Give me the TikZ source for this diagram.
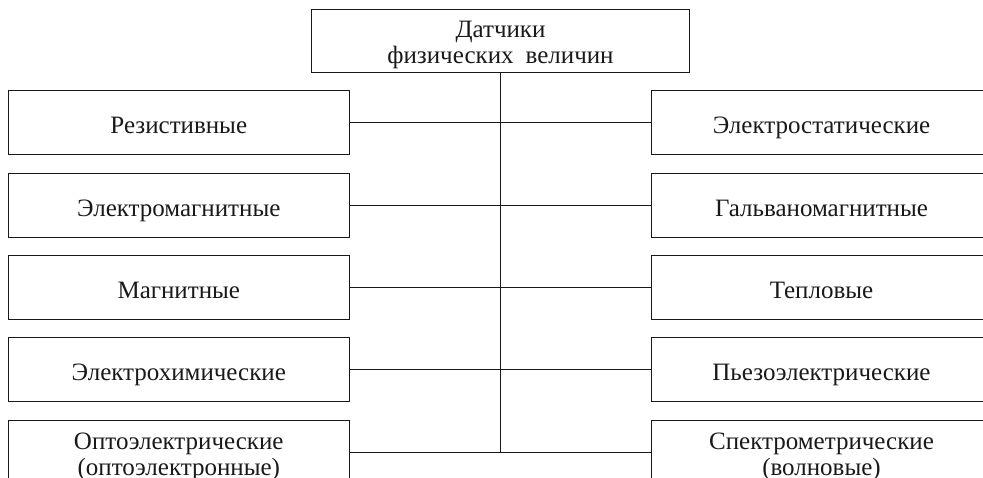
\documentclass[tikz,border=0pt]{standalone}
\usepackage{fontspec}
\setmainfont{Liberation Serif}
\begin{document}
\begin{tikzpicture}[x=1pt,y=-1pt,
  line width=1pt,
  sbox/.style={draw=black!90, text=black!90, minimum width=341pt, minimum height=64pt, inner sep=0pt,
    font=\fontsize{25}{27.5}\selectfont, text height=27pt, text depth=5pt},
  dbox/.style={sbox, text height=29pt, text depth=35pt},
  tbox/.style={sbox, minimum width=377.6pt, minimum height=63.4pt, text height=28.3pt, text depth=35pt},
  link/.style={draw=black!90, line width=1pt}]
\useasboundingbox (0,0) rectangle (983,478);
\clip (0,0) rectangle (983,478);
\node[tbox] (top) at (500.5,41) {\renewcommand{\arraystretch}{0.945}\begin{tabular}[t]{@{}c@{}}Датчики\\физических\hspace{0.48em}величин\end{tabular}};
\node[sbox] (L1) at (178.8,123) {Резистивные};
\node[sbox] (L2) at (178.8,205.3) {Электромагнитные};
\node[sbox] (L3) at (178.8,287.2) {Магнитные};
\node[sbox] (L4) at (178.8,369.7) {Электрохимические};
\node[dbox] (L5) at (178.8,452) {\renewcommand{\arraystretch}{0.98}\begin{tabular}[t]{@{}c@{}}Оптоэлектрические\\(оптоэлектронные)\end{tabular}};
\node[sbox] (R1) at (821.5,123) {Электростатические};
\node[sbox] (R2) at (821.5,205.3) {Гальваномагнитные};
\node[sbox] (R3) at (821.5,287.2) {Тепловые};
\node[sbox] (R4) at (821.5,369.7) {Пьезоэлектрические};
\node[dbox] (R5) at (821.5,452) {\renewcommand{\arraystretch}{0.98}\begin{tabular}[t]{@{}c@{}}Спектрометрические\\(волновые)\end{tabular}};
\coordinate (tend) at (top.south |- L5.east);
\draw[link] (top.south) -- (tend);
\draw[link] (L1.east) -- (R1.west);
\draw[link] (L2.east) -- (R2.west);
\draw[link] (L3.east) -- (R3.west);
\draw[link] (L4.east) -- (R4.west);
\draw[link] (L5.east) -- (R5.west);
\end{tikzpicture}
\end{document}
